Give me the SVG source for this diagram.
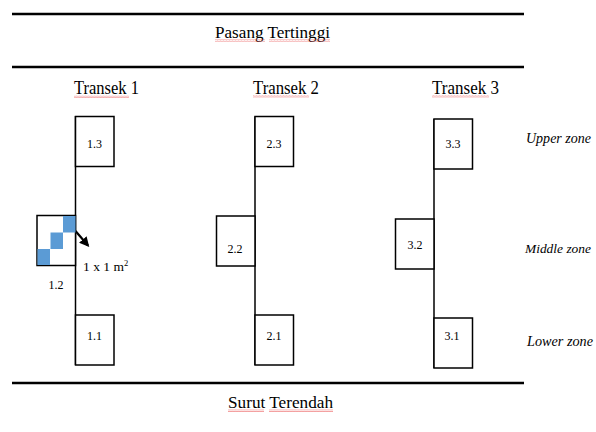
<svg xmlns="http://www.w3.org/2000/svg" width="596" height="432" viewBox="0 0 596 432">
  <style>
    .bg { fill: #ffffff; }
    .rule { stroke: #000; stroke-width: 2.6; }
    .box { fill: #ffffff; stroke: #000; stroke-width: 1.5; }
    .stem { stroke: #000; stroke-width: 1.5; fill: none; }
    .title { font-family: "Liberation Serif", "Times New Roman", Times, serif; font-size: 17px; fill: #000; }
    .head { font-family: "Liberation Serif", "Times New Roman", Times, serif; font-size: 19.5px; fill: #000; }
    .lbl { font-family: "Liberation Serif", "Times New Roman", Times, serif; font-size: 13.5px; fill: #000; text-anchor: middle; }
    .zone { font-family: "Liberation Serif", "Times New Roman", Times, serif; font-size: 14.5px; font-style: italic; fill: #000; }
    .cell { fill: #5b9bd5; }
    .squiggle { fill: url(#wave); }
  </style>
  <defs>
    <!-- spell-check style wavy underline -->
    <pattern id="wave" width="3" height="2.4" patternUnits="userSpaceOnUse">
      <path d="M0,1.8 L0.75,0.6 L1.5,1.8 L2.25,0.6 L3,1.8" fill="none" stroke="#ea4a4a" stroke-width="0.55"/>
    </pattern>
    <marker id="arrowhead" viewBox="0 0 10 10" refX="8" refY="5" markerWidth="4.5" markerHeight="4.5" orient="auto">
      <path d="M0,0 L10,5 L0,10 Z" fill="#000"/>
    </marker>
  </defs>

  <rect class="bg" x="0" y="0" width="596" height="432"/>

  <!-- tide reference lines -->
  <g id="tide-lines">
    <line class="rule" x1="12" y1="14" x2="524" y2="14"/>
    <line class="rule" x1="12" y1="67" x2="524" y2="67"/>
    <line class="rule" x1="12" y1="383" x2="524" y2="383"/>
  </g>

  <g id="high-tide">
    <text class="title" x="215" y="37.5" textLength="115" lengthAdjust="spacingAndGlyphs">Pasang Tertinggi</text>
    <rect class="squiggle" x="215" y="39.5" width="50" height="2.4"/>
    <rect class="squiggle" x="269" y="39.5" width="61" height="2.4"/>
  </g>

  <g id="low-tide">
    <text class="title" x="228" y="407.5" textLength="105" lengthAdjust="spacingAndGlyphs">Surut Terendah</text>
    <rect class="squiggle" x="228" y="409.5" width="36" height="2.4"/>
    <rect class="squiggle" x="269" y="409.5" width="64" height="2.4"/>
  </g>

  <!-- transect headings -->
  <g id="heading-1">
    <text class="head" x="74" y="94" textLength="65" lengthAdjust="spacingAndGlyphs">Transek 1</text>
    <rect class="squiggle" x="74" y="95.5" width="55" height="2.4"/>
  </g>
  <g id="heading-2">
    <text class="head" x="253" y="93.5" textLength="66" lengthAdjust="spacingAndGlyphs">Transek 2</text>
    <rect class="squiggle" x="253" y="95" width="56" height="2.4"/>
  </g>
  <g id="heading-3">
    <text class="head" x="432" y="93.5" textLength="67" lengthAdjust="spacingAndGlyphs">Transek 3</text>
    <rect class="squiggle" x="432" y="95" width="57" height="2.4"/>
  </g>

  <!-- transect lines and the quadrat arrow -->
  <g id="connectors">
    <line class="stem" x1="75.5" y1="116" x2="75.5" y2="365"/>
    <line class="stem" x1="255" y1="116.5" x2="255" y2="365"/>
    <line class="stem" x1="434" y1="119" x2="434" y2="368"/>
    <line x1="75.5" y1="231" x2="88" y2="245.5" stroke="#000" stroke-width="2.2" marker-end="url(#arrowhead)"/>
  </g>

  <!-- transect 1 -->
  <g id="plot-1-3">
    <rect class="box" x="75.5" y="116.5" width="38.5" height="50"/>
    <text class="lbl" x="94.5" y="147.5" textLength="15" lengthAdjust="spacingAndGlyphs">1.3</text>
  </g>
  <g id="plot-1-2">
    <rect class="box" x="37" y="215.5" width="38.5" height="50"/>
    <rect class="cell" x="63" y="216" width="12.5" height="16.5"/>
    <rect class="cell" x="50.5" y="232.5" width="12.5" height="16.5"/>
    <rect class="cell" x="37.5" y="249" width="12.5" height="16"/>
    <text class="lbl" x="56" y="288.5" textLength="15" lengthAdjust="spacingAndGlyphs">1.2</text>
    <text class="lbl" x="83" y="270.5" style="text-anchor:start">1 x 1 m<tspan dy="-5" font-size="8.5">2</tspan></text>
  </g>
  <g id="plot-1-1">
    <rect class="box" x="75.5" y="315" width="38.5" height="50"/>
    <text class="lbl" x="94.5" y="339.5" textLength="15" lengthAdjust="spacingAndGlyphs">1.1</text>
  </g>

  <!-- transect 2 -->
  <g id="plot-2-3">
    <rect class="box" x="255" y="116.5" width="38.5" height="50"/>
    <text class="lbl" x="274" y="147.5" textLength="15" lengthAdjust="spacingAndGlyphs">2.3</text>
  </g>
  <g id="plot-2-2">
    <rect class="box" x="216.5" y="216" width="38.5" height="50"/>
    <text class="lbl" x="235" y="252.5" textLength="15" lengthAdjust="spacingAndGlyphs">2.2</text>
  </g>
  <g id="plot-2-1">
    <rect class="box" x="255" y="315" width="38.5" height="50"/>
    <text class="lbl" x="274" y="339.5" textLength="15" lengthAdjust="spacingAndGlyphs">2.1</text>
  </g>

  <!-- transect 3 -->
  <g id="plot-3-3">
    <rect class="box" x="434" y="119" width="38.5" height="50"/>
    <text class="lbl" x="453" y="147.5" textLength="15" lengthAdjust="spacingAndGlyphs">3.3</text>
  </g>
  <g id="plot-3-2">
    <rect class="box" x="395.5" y="219" width="38.5" height="50"/>
    <text class="lbl" x="415" y="248.5" textLength="15" lengthAdjust="spacingAndGlyphs">3.2</text>
  </g>
  <g id="plot-3-1">
    <rect class="box" x="434" y="318" width="38.5" height="50"/>
    <text class="lbl" x="452" y="339.5" textLength="15" lengthAdjust="spacingAndGlyphs">3.1</text>
  </g>

  <!-- zone labels -->
  <g id="zones">
    <text class="zone" x="526" y="143" textLength="65" lengthAdjust="spacingAndGlyphs">Upper zone</text>
    <text class="zone" x="525" y="253" style="font-size:13.5px" textLength="66" lengthAdjust="spacingAndGlyphs">Middle zone</text>
    <text class="zone" x="527" y="346" textLength="66" lengthAdjust="spacingAndGlyphs">Lower zone</text>
  </g>
</svg>
